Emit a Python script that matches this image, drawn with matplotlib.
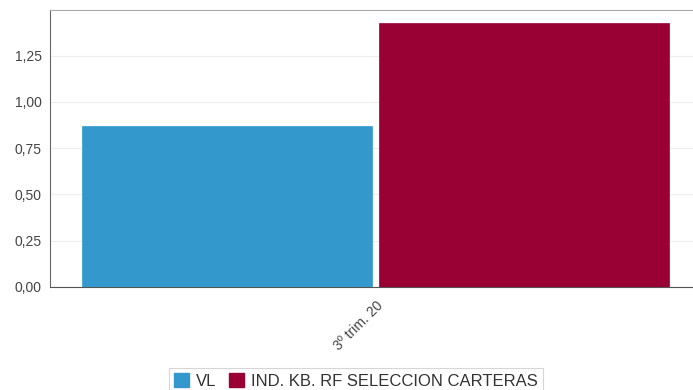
import matplotlib
matplotlib.use("Agg")
import matplotlib.pyplot as plt
from matplotlib.patches import Patch
from matplotlib.ticker import FuncFormatter

categories = ["3º trim. 20"]
series_names = ["VL", "IND. KB. RF SELECCION CARTERAS"]
series_values = [[0.87], [1.427]]
colors = ["#3399cc", "#990033"]

plt.rcParams['font.family'] = ['Liberation Sans', 'DejaVu Sans']

fig = plt.figure(figsize=(6.93, 3.90), dpi=100)
ax = fig.add_axes([50/693, 1-287/390, 651/693, 277/390])

width = 0.445
offsets = [-0.2285, 0.2285]
for name, vals, col, off in zip(series_names, series_values, colors, offsets):
    xs = [i + off for i in range(len(categories))]
    ax.bar(xs, vals, width=width, color=col, edgecolor=col, linewidth=0.5, zorder=3)

ax.set_xlim(-0.5, 0.5)
ax.set_ylim(0, 1.497)
ax.set_yticks([0, 0.25, 0.5, 0.75, 1.0, 1.25])
ax.yaxis.set_major_formatter(FuncFormatter(lambda v, p: f"{v:.2f}".replace(".", ",")))
ax.set_xticks(range(len(categories)))
ax.set_xticklabels(categories, rotation=45, ha='right', rotation_mode='anchor',
                   fontsize=10, color='#444444')
ax.tick_params(axis='x', length=0, pad=8)
ax.tick_params(axis='y', length=0, labelsize=10, labelcolor='#444444', pad=6)
ax.grid(axis='y', color='#eeeeee', linewidth=0.8, zorder=0)
ax.spines['right'].set_visible(False)
ax.spines['top'].set_color('#aaaaaa')
ax.spines['left'].set_color('#666666')
ax.spines['bottom'].set_color('#555555')

handles = [Patch(facecolor=c, edgecolor=c) for c in colors]
leg = fig.legend(handles, series_names, loc='center', bbox_to_anchor=(356/693, 1-381/390),
                 ncol=2, frameon=True, fancybox=False, fontsize=12,
                 handlelength=0.9, handleheight=0.9, handletextpad=0.4, columnspacing=0.8,
                 borderpad=0.3, labelcolor='#333333')
leg.get_frame().set_edgecolor('#cccccc')
leg.get_frame().set_linewidth(0.8)

fig.savefig("out.png", dpi=100)
